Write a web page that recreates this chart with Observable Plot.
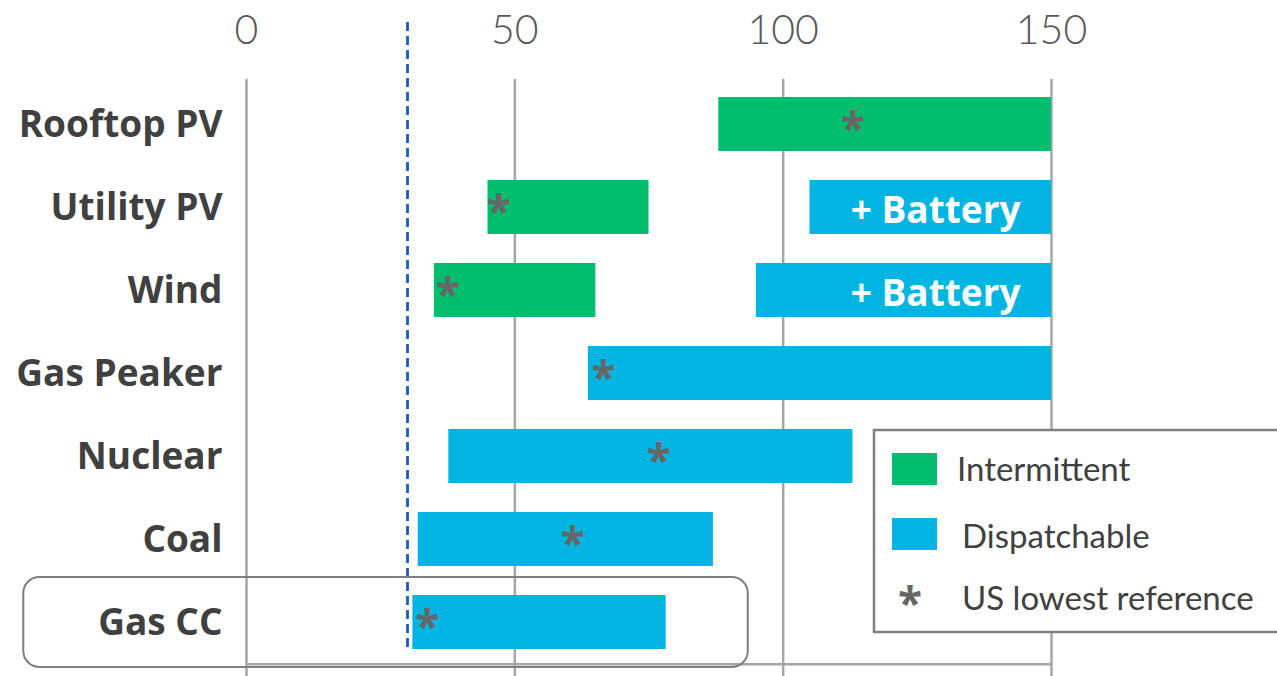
<!DOCTYPE html>
<html><head><meta charset="utf-8">
<script src="https://cdn.jsdelivr.net/npm/d3@7"></script>
<script src="https://cdn.jsdelivr.net/npm/@observablehq/plot@0.6"></script>
<style>
body{margin:0;background:#fff;font-family:Lato,"Open Sans",sans-serif}
#wrap{position:relative;width:1277px;height:676px;overflow:hidden}
#legend{position:absolute;left:0;top:0;pointer-events:none}
</style></head><body><div id="wrap"></div>
<script>
// ---- data ----
const categories = ["Rooftop PV","Utility PV","Wind","Gas Peaker","Nuclear","Coal","Gas CC"];
const rangeLow  = [88, 45, 35, 63.7, 37.7, 32, 31];
const rangeHigh = [150, 75, 65.1, 150, 113, 87, 78.2];
const barType   = ["Intermittent","Intermittent","Intermittent","Dispatchable","Dispatchable","Dispatchable","Dispatchable"];
const usLowest  = [113, 47, 37.5, 66.5, 76.8, 60.8, 33.7];
const batteryCats = ["Utility PV","Wind"];
const batteryLow  = [105, 95];
const batteryHigh = [150, 150];
const batteryLabel = "+ Battery";
const xTicks = [0, 50, 100, 150];
const referenceLine = [30];
const highlightCats = ["Gas CC"];
const highlightLow = [-41.5];
const highlightHigh = [93.5];
const legendLabels = ["Intermittent","Dispatchable","US lowest reference"];
const typeColors = ["#00BE6E","#00B5E2"];

// ---- tables ----
const rows = categories.map((c,i)=>({cat:c, lo:rangeLow[i], hi:rangeHigh[i], type:barType[i], star:usLowest[i]}));
const battery = batteryCats.map((c,i)=>({cat:c, lo:batteryLow[i], hi:batteryHigh[i], type:"Dispatchable"}));
const highlight = highlightCats.map((c,i)=>({cat:c, lo:highlightLow[i], hi:highlightHigh[i]}));

const boldFont = "'Open Sans', Lato, sans-serif";

const chart = Plot.plot({
  width: 1277, height: 676,
  marginLeft: 246, marginRight: 226, marginTop: 79, marginBottom: 0,
  style: {fontFamily: "Lato, 'Open Sans', sans-serif", background: "#fff"},
  x: {domain: [0, 150]},
  y: {domain: categories, range: [80, 665], paddingInner: 0.35, paddingOuter: 0.175},
  color: {domain: ["Intermittent","Dispatchable"], range: typeColors},
  marks: [
    Plot.ruleX(xTicks, {stroke: "#a6a6a6", strokeWidth: 2.5}),
    Plot.ruleY(highlightCats, {y: d => d, x1: 0, x2: 150, dy: 41.8, stroke: "#a6a6a6", strokeWidth: 2.5}),
    Plot.barX(rows, {x1: "lo", x2: "hi", y: "cat", fill: "type"}),
    Plot.barX(battery, {x1: "lo", x2: "hi", y: "cat", fill: "type"}),
    Plot.text(battery, {x: "hi", y: "cat", text: () => batteryLabel, textAnchor: "end", dx: -31, dy: 4,
      fill: "#fff", fontWeight: "bold", fontSize: 37, fontFamily: boldFont}),
    Plot.text(rows, {x: "star", y: "cat", text: () => "*", fill: "#666", fontWeight: "bold", fontSize: 44, dy: 5, fontFamily: boldFont}),
    Plot.ruleX(referenceLine, {stroke: "#1a5fc0", strokeWidth: 2.8, strokeDasharray: "9,5", insetTop: -57, insetBottom: 28}),
    Plot.barX(highlight, {x1: "lo", x2: "hi", y: "cat", fill: "none", stroke: "#7f7f7f", strokeWidth: 2, rx: 16, insetTop: -18, insetBottom: -18}),
    Plot.axisX(xTicks, {anchor: "top", tickSize: 0, tickPadding: 36, fontSize: 41, fontWeight: 300, color: "#595959", label: null}),
    Plot.axisY({tickSize: 0, tickPadding: 24, fontSize: 37, fontWeight: "bold", color: "#404040", label: null, dy: 1, fontFamily: boldFont})
  ]
});
const wrap = document.getElementById("wrap");
wrap.appendChild(chart);

// ---- legend overlay ----
const lg = d3.select(wrap).append("svg").attr("id","legend").attr("width",1277).attr("height",676)
  .style("font-family","Lato, 'Open Sans', sans-serif");
lg.append("rect").attr("x",874).attr("y",430).attr("width",420).attr("height",202)
  .attr("fill","#fff").attr("stroke","#808080").attr("stroke-width",2.5);
lg.append("rect").attr("x",892).attr("y",453).attr("width",45).attr("height",32).attr("fill",typeColors[0]);
lg.append("rect").attr("x",892).attr("y",518).attr("width",45).attr("height",32).attr("fill",typeColors[1]);
lg.append("text").attr("x",910).attr("y",598).attr("dy",21).attr("text-anchor","middle")
  .attr("font-size",44).attr("font-weight","bold").attr("font-family",boldFont).attr("fill","#666").text("*");
const lx = [957, 962, 962], ly = [481, 548, 610];
legendLabels.forEach((t,i)=>{
  lg.append("text").attr("x",lx[i]).attr("y",ly[i]).attr("font-size",33).attr("fill","#404040").text(t);
});
</script></body></html>
